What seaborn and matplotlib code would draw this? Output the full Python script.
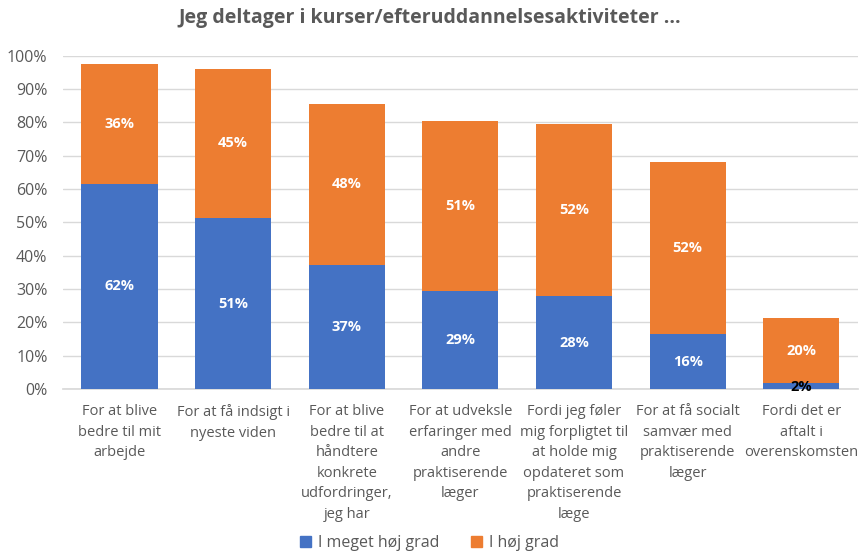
import numpy as np
import pandas as pd
import matplotlib
matplotlib.use("Agg")
import matplotlib.pyplot as plt
import seaborn as sns
from matplotlib.patches import Patch

categories = [
    "For at blive\nbedre til mit\narbejde",
    "For at få indsigt i\nnyeste viden",
    "For at blive\nbedre til at\nhåndtere\nkonkrete\nudfordringer,\njeg har",
    "For at udveksle\nerfaringer med\nandre\npraktiserende\nlæger",
    "Fordi jeg føler\nmig forpligtet til\nat holde mig\nopdateret som\npraktiserende\nlæge",
    "For at få socialt\nsamvær med\npraktiserende\nlæger",
    "Fordi det er\naftalt i\noverenskomsten",
]
meget_hoej = [61.6, 51.3, 37.2, 29.4, 27.9, 16.4, 1.7]
hoej = [36.0, 44.8, 48.4, 51.1, 51.6, 51.7, 19.6]
series_names = ["I meget høj grad", "I høj grad"]

BLUE = "#4472C4"
ORANGE = "#ED7D31"
GREY = "#595959"

sns.set_theme(style="white")
plt.rcParams["font.family"] = ["Open Sans", "DejaVu Sans"]

df = pd.DataFrame({"cat": categories, "blue": meget_hoej, "orange": hoej})
df["total"] = df["blue"] + df["orange"]

fig = plt.figure(figsize=(8.59, 5.52), dpi=100)
ax = fig.add_axes([0.073, 0.295, 0.926, 0.604])

sns.barplot(data=df, x="cat", y="total", color=ORANGE, width=0.67,
            saturation=1, linewidth=0, ax=ax, zorder=2)
sns.barplot(data=df, x="cat", y="blue", color=BLUE, width=0.67,
            saturation=1, linewidth=0, ax=ax, zorder=3)

for i, (b, o) in enumerate(zip(meget_hoej, hoej)):
    col_b = "white" if b > 5 else "black"
    yb = b / 2 if b > 5 else b / 2 - 0.3
    ax.text(i, yb, f"{round(b):.0f}%", ha="center", va="center",
            color=col_b, fontsize=10.5, fontweight="bold", zorder=4)
    ax.text(i, b + o / 2, f"{round(o):.0f}%", ha="center", va="center",
            color="white", fontsize=10.5, fontweight="bold", zorder=4)

ax.set_ylim(0, 100)
ax.set_xlim(-0.5, 6.5)
ax.set_yticks(np.arange(0, 101, 10))
ax.set_yticklabels([f"{v}%" for v in range(0, 101, 10)])
ax.yaxis.grid(True, color="#D9D9D9", linewidth=1, zorder=0)
ax.set_axisbelow(True)
for s in ["top", "right", "left"]:
    ax.spines[s].set_visible(False)
ax.spines["bottom"].set_color("#D9D9D9")
ax.set_xlabel("")
ax.set_ylabel("")
ax.tick_params(axis="y", colors=GREY, labelsize=11.5, length=0, pad=11)
ax.tick_params(axis="x", colors=GREY, labelsize=10.5, length=0, pad=11)
for lbl in ax.get_xticklabels():
    lbl.set_linespacing(1.5)

fig.suptitle("Jeg deltager i kurser/efteruddannelsesaktiviteter ...",
             x=0.5, y=0.985, fontsize=14, fontweight="bold", color=GREY)

handles = [Patch(color=BLUE, label=series_names[0]),
           Patch(color=ORANGE, label=series_names[1])]
leg = fig.legend(handles=handles, loc="lower center", ncol=2,
                 bbox_to_anchor=(0.5, -0.025), frameon=False,
                 fontsize=11.5, handlelength=0.7, handleheight=0.7,
                 handletextpad=0.4, columnspacing=2)
for t in leg.get_texts():
    t.set_color(GREY)

fig.savefig("out.png", dpi=100)
